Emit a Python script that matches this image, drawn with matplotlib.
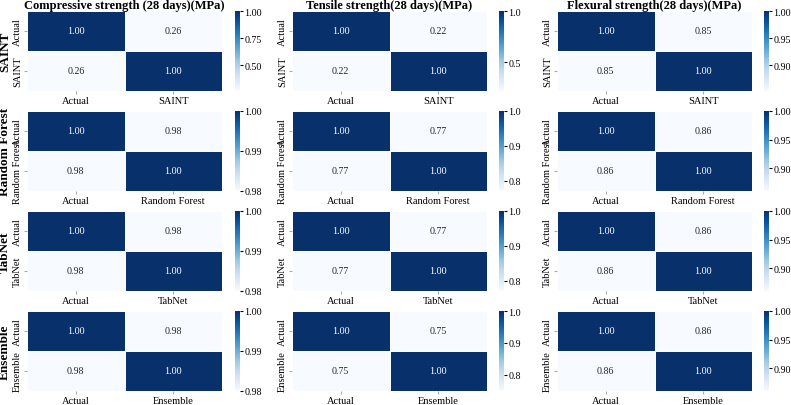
import numpy as np
import matplotlib
matplotlib.use('Agg')
import matplotlib.pyplot as plt
from matplotlib.ticker import MultipleLocator
import seaborn as sns

plt.rcParams['font.family'] = ['Liberation Serif', 'DejaVu Serif']

# targets (columns) and models (rows)
targets = ['Compressive strength (28 days)(MPa)',
           'Tensile strength(28 days)(MPa)',
           'Flexural strength(28 days)(MPa)']
models = ['SAINT', 'Random Forest', 'TabNet', 'Ensemble']

# correlation between actual and predicted, one per model per target
compressive_corr = [0.26, 0.98, 0.98, 0.98]
tensile_corr = [0.22, 0.77, 0.77, 0.75]
flexural_corr = [0.853, 0.86, 0.86, 0.86]
all_corr = [compressive_corr, tensile_corr, flexural_corr]

W, H = 791, 406
fig = plt.figure(figsize=(W / 100, H / 100), dpi=100)

col_left = [27, 292, 557]
cbar_left = [235, 499, 764]
row_top = [12, 112, 212, 312]
hm_w, hm_h, cb_w = 195, 80, 5


def box(x, y, w, h):
    return [x / W, 1 - (y + h) / H, w / W, h / H]


def tick_step(span):
    # smallest "nice" step giving at most three intervals on the colorbar
    for s in [0.01, 0.05, 0.1, 0.25, 0.5]:
        if span / s <= 3.0001:
            return s
    return 1.0


for j, target in enumerate(targets):
    for i, model in enumerate(models):
        r = all_corr[j][i]
        mat = np.array([[1.0, r], [r, 1.0]])
        labels = ['Actual', model]
        ax = fig.add_axes(box(col_left[j], row_top[i], hm_w, hm_h))
        cax = fig.add_axes(box(cbar_left[j], row_top[i], cb_w, hm_h))
        sns.heatmap(mat, annot=True, fmt='.2f', cmap='Blues', ax=ax, cbar_ax=cax,
                    linewidths=0.5, linecolor='white',
                    xticklabels=labels, yticklabels=labels,
                    annot_kws={'fontsize': 7.2})
        ax.tick_params(labelsize=7.5, length=2, pad=1.5, color='#aaaaaa')
        ax.set_yticklabels(labels, rotation=90, va='center')
        cbar = ax.collections[0].colorbar
        cbar.locator = MultipleLocator(tick_step(1.0 - r))
        cbar.update_ticks()
        cax.tick_params(labelsize=7.2, length=2, pad=1.2)
        for s in cax.spines.values():
            s.set_visible(False)
        if i == 0:
            ax.set_title(target, fontsize=9, fontweight='bold', pad=2)
        if j == 0:
            fig.text(5 / W, 1 - (row_top[i] + hm_h / 2) / H, model, rotation=90,
                     ha='center', va='center', fontsize=9.5, fontweight='bold')

fig.savefig('out.png', dpi=100)
